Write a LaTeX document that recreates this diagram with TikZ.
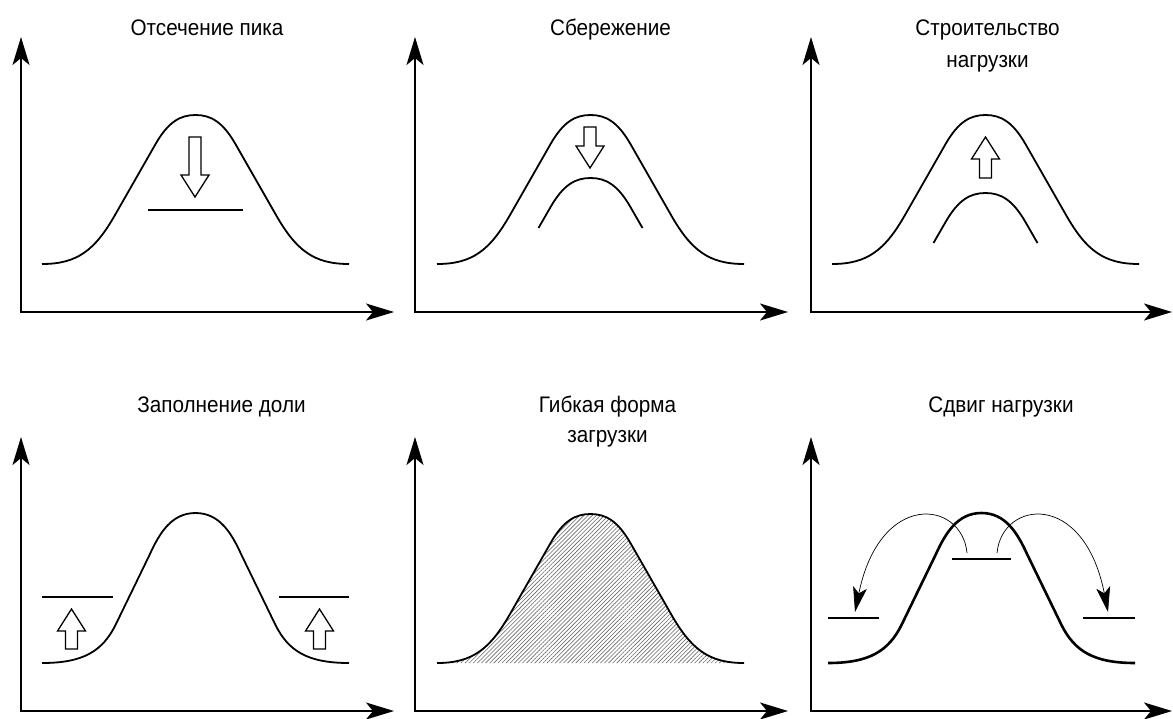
\documentclass[tikz,border=0pt]{standalone}
\usepackage{fontspec}
\setmainfont{Liberation Sans}[FakeStretch=0.92]
\usetikzlibrary{arrows.meta,patterns.meta}

\tikzset{
  axis/.style={line width=2pt, line join=miter,
    {Stealth[length=28pt,width=17pt,inset=7pt]}-{Stealth[length=28pt,width=17pt,inset=7pt]}},
  curve/.style={line width=1.8pt, line join=round},
  boldcurve/.style={line width=2.6pt, line join=round},
  level/.style={line width=1.8pt},
  blockarr/.style={line width=1.3pt, fill=white, line join=miter},
  shiftarr/.style={line width=0.7pt, -{Stealth[length=25pt,width=14pt,inset=6pt]}},
  title/.style={font=\fontsize{22.5}{26}\selectfont, anchor=base, inner sep=0pt},
  hatch/.style={pattern={Lines[angle=45,distance=2.9pt,line width=0.6pt]}, pattern color=black!60},
}

\newcommand{\bellA}[3]{%
  \path[#3, shift={(#1,#2)}] (-153.5,0) .. controls (-118,0) and (-100.5,-14) .. (-80.5,-49)
    -- (-40.5,-119) .. controls (-27.5,-142) and (-15.5,-149) .. (0,-149)
    .. controls (15.5,-149) and (27.5,-142) .. (40.5,-119)
    -- (80.5,-49) .. controls (100.5,-14) and (118,0) .. (153.5,0);}
\newcommand{\innerA}[3]{%
  \path[#3, shift={(#1,#2)}] (-52,-99)
    -- (-40.5,-119) .. controls (-27.5,-142) and (-15.5,-149) .. (0,-149)
    .. controls (15.5,-149) and (27.5,-142) .. (40.5,-119) -- (52,-99);}
\newcommand{\bellB}[3]{%
  \path[#3, shift={(#1,#2)}] (-153.5,0) .. controls (-112,0) and (-93,-12) .. (-80,-38)
    -- (-46,-108) .. controls (-36,-130) and (-24,-150) .. (0,-150)
    .. controls (24,-150) and (36,-130) .. (46,-108)
    -- (80,-38) .. controls (93,-12) and (112,0) .. (153.5,0);}
\newcommand{\blockdown}[3]{%
  \draw[blockarr, shift={(#1,#2)}] (0,0) -- (-14,-22) -- (-6,-22) -- (-6,-#3)
    -- (6,-#3) -- (6,-22) -- (14,-22) -- cycle;}
\newcommand{\blockup}[3]{%
  \draw[blockarr, shift={(#1,#2)}] (0,0) -- (-14,22) -- (-6,22) -- (-6,#3)
    -- (6,#3) -- (6,22) -- (14,22) -- cycle;}

\begin{document}
\begin{tikzpicture}[x=1pt,y=-1pt]
\useasboundingbox (0,0) rectangle (1173,718);

% ---------- titles ----------
\node[title] (t1)  at (207,35)    {Отсечение пика};
\node[title] (t2)  at (610.5,35)  {Сбережение};
\node[title] (t3a) at (987.5,35)  {Строительство};
\node[title] (t3b) at (987.5,67)  {нагрузки};
\node[title] (t4)  at (221.5,412) {Заполнение доли};
\node[title] (t5a) at (607.5,412) {Гибкая форма};
\node[title] (t5b) at (607.5,442) {загрузки};
\node[title] (t6)  at (1001,412)  {Сдвиг нагрузки};

% ---------- axes ----------
\coordinate (o1) at (21,312);  \coordinate (y1) at (21,37);  \coordinate (x1) at (394,312);
\coordinate (o2) at (415,312); \coordinate (y2) at (415,37); \coordinate (x2) at (788,312);
\coordinate (o3) at (811,312); \coordinate (y3) at (811,37); \coordinate (x3) at (1172,312);
\coordinate (o4) at (21,711);  \coordinate (y4) at (21,437);  \coordinate (x4) at (394,711);
\coordinate (o5) at (415,711); \coordinate (y5) at (415,437); \coordinate (x5) at (788,711);
\coordinate (o6) at (811,711); \coordinate (y6) at (811,437); \coordinate (x6) at (1172,711);
\foreach \i in {1,...,6} { \draw[axis] (y\i) -- (o\i) -- (x\i); }

% ---------- panel 1: peak clipping ----------
\bellA{195.5}{264}{draw, curve}
\blockdown{195}{197}{60}
\draw[level] (148,210) -- (243,210);

% ---------- panel 2: conservation ----------
\bellA{590.5}{264}{draw, curve}
\innerA{590.5}{327}{draw, curve}
\blockdown{590}{168}{41}

% ---------- panel 3: load building ----------
\bellA{985.5}{264}{draw, curve}
\innerA{985.5}{342}{draw, curve}
\blockup{985.5}{137}{41}

% ---------- panel 4: valley filling ----------
\bellB{195.5}{663}{draw, curve}
\draw[level] (42,597) -- (113,597);
\draw[level] (279,597) -- (349,597);
\blockup{71.5}{609}{40}
\blockup{319.5}{609}{40}

% ---------- panel 5: flexible load shape ----------
\bellA{590.5}{663}{hatch}
\bellA{590.5}{663}{draw, curve}

% ---------- panel 6: load shifting ----------
\bellB{981.5}{663}{draw, boldcurve}
\draw[level] (952,559) -- (1011,559);
\draw[level] (828,618) -- (879,618);
\draw[level] (1083,618) -- (1135,618);
\coordinate (s6l) at (967,553); \coordinate (e6l) at (855,612);
\coordinate (s6r) at (997,553); \coordinate (e6r) at (1108,612);
\draw[shiftarr] (s6l) .. controls (962,500) and (880,490) .. (e6l);
\draw[shiftarr] (s6r) .. controls (1002,500) and (1084,490) .. (e6r);
\end{tikzpicture}
\end{document}
